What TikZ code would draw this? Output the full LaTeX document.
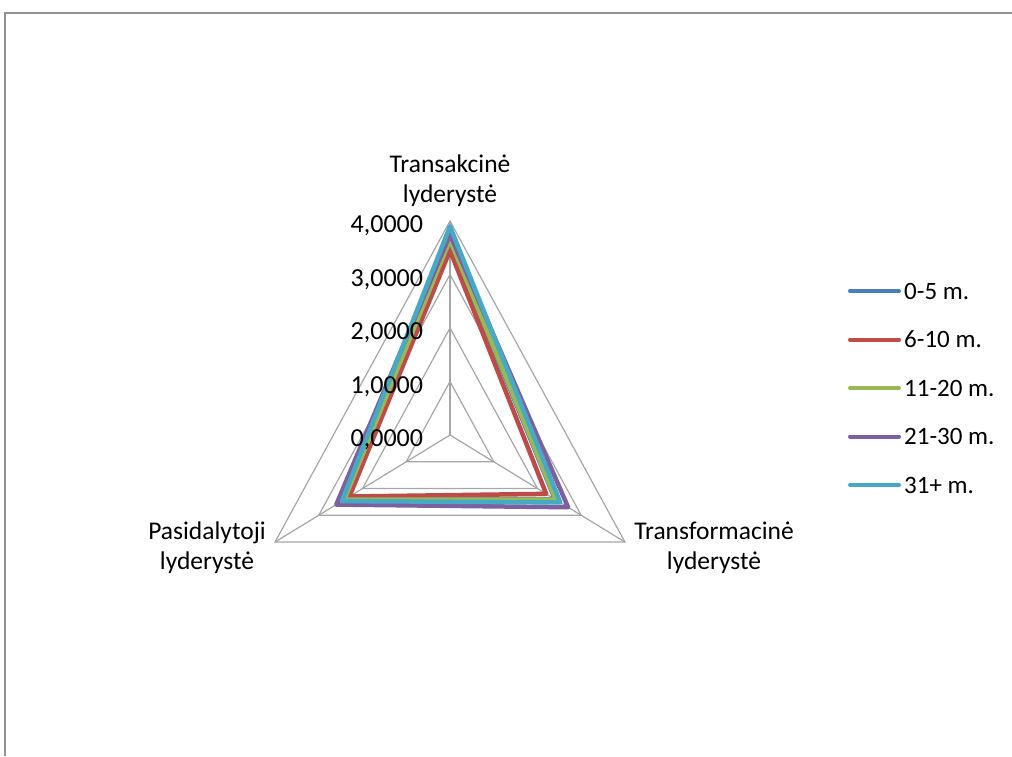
\documentclass[tikz,border=0pt]{standalone}
\usepackage{fontspec}
\setmainfont{Carlito}
\definecolor{sblue}{HTML}{4A7EBB}
\definecolor{sred}{HTML}{BE4B48}
\definecolor{sgreen}{HTML}{98B954}
\definecolor{spurple}{HTML}{7D60A0}
\definecolor{scyan}{HTML}{46AAC5}
\tikzset{
  gridline/.style={draw=gray!70,line width=1.2pt},
  series/.style={line width=4.5pt,line join=round},
  catlabel/.style={align=center,inner sep=0pt,font=\fontsize{25.5}{30}\selectfont},
  vallabel/.style={anchor=east,inner sep=0pt,font=\fontsize{26}{30}\selectfont},
  legtext/.style={anchor=west,inner sep=0pt,font=\fontsize{25}{28}\selectfont},
}

\begin{document}
\begin{tikzpicture}[x=1pt,y=-1pt]
\useasboundingbox (0,0) rectangle (1012,756);
\draw[draw=gray!85,line width=2pt] (5,756) -- (5,13) -- (1012,13);
% radar: one unit = one step of the value axis
\begin{scope}[shift={(450,435)},x=50.5pt,y=53.5pt]
\foreach \r in {1,...,4} \draw[gridline] (90:\r) -- (-30:\r) -- (210:\r) -- cycle;
\foreach \a in {90,-30,210} \draw[gridline] (0,0) -- (\a:4);
\foreach \c/\t/\f/\p in {sblue/3.6/2.4/2.4,sred/3.45/2.2/2.3,sgreen/3.65/2.42/2.42,spurple/3.75/2.7/2.6,scyan/3.9/2.52/2.47}
  \draw[series,\c] (90:\t) -- (-30:\f) -- (210:\p) -- cycle;
\foreach \r in {0,...,4} \node[vallabel] (val\r) at ([yshift=-5pt]-0.53,\r) {\r,0000};
\end{scope}
\node[catlabel] (trans) at (450,181) {Transakcinė\\lyderystė};
\node[catlabel] (pasid) at (207,548) {Pasidalytoji\\lyderystė};
\node[catlabel] (transf) at (714,548) {Transformacinė\\lyderystė};
% legend
\foreach \c/\l [count=\n] in {sblue/0-5 m.,sred/6-10 m.,sgreen/11-20 m.,spurple/21-30 m.,scyan/31+ m.} {
  \node[legtext] (leg\n) at (904,242.5+48.5*\n) {\l};
  \coordinate (ls\n) at (850,242.5+48.5*\n);
  \draw[\c,line width=4pt,line cap=round,shorten >=5pt] (ls\n) -- (leg\n.west);
}
\end{tikzpicture}
\end{document}
